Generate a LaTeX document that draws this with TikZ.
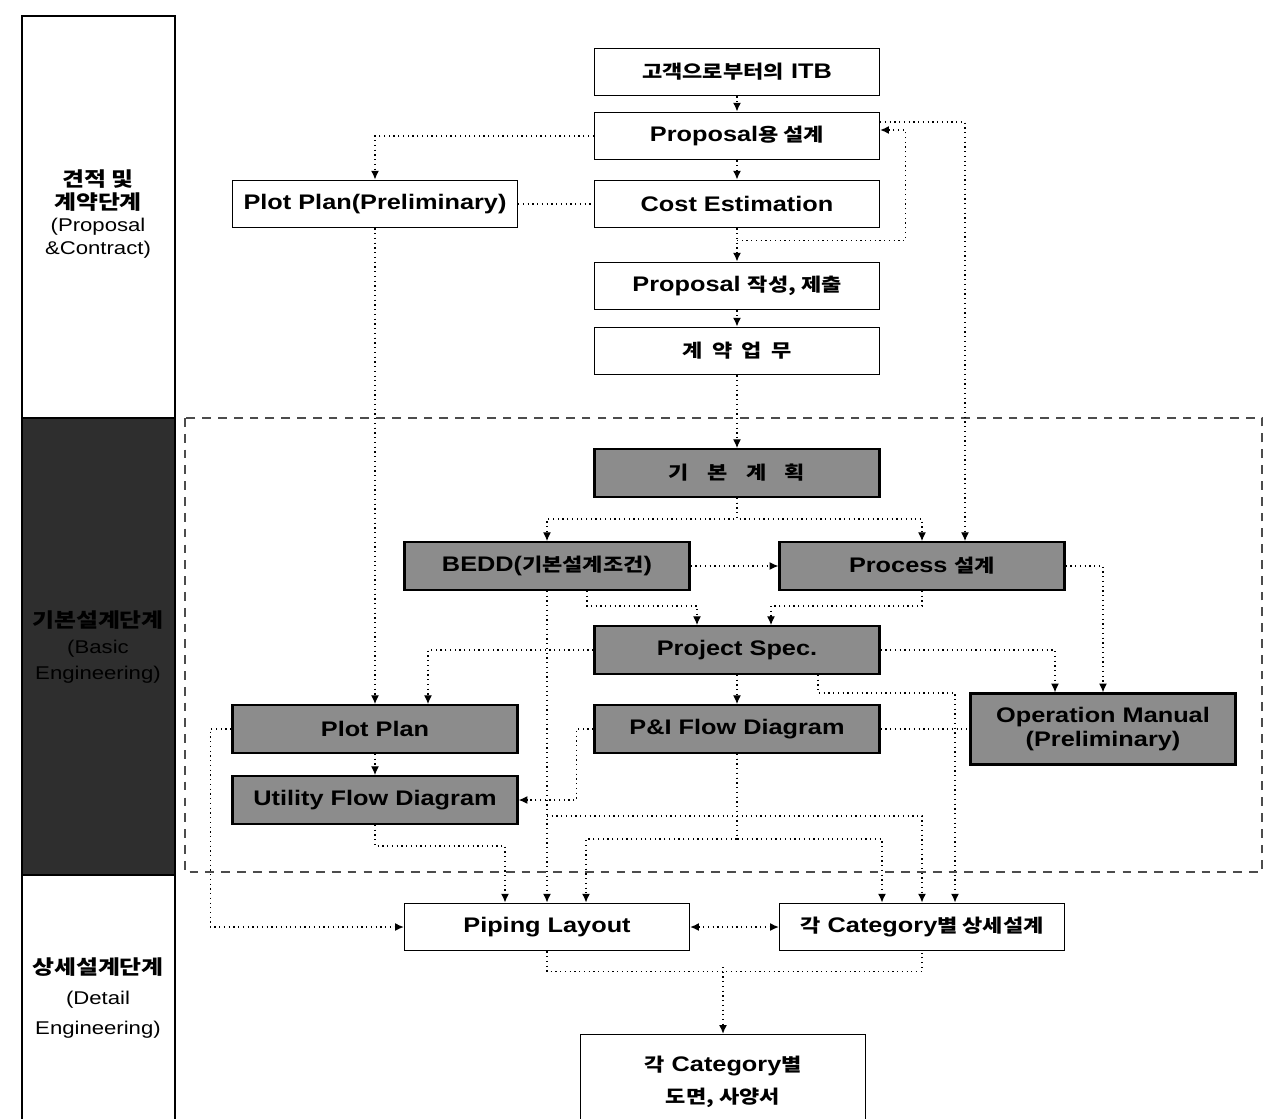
\documentclass[tikz,border=0pt]{standalone}
\usepackage{fontspec}
\setmainfont{Liberation Sans}[FakeStretch=1.2]
\newfontfamily\kr{Noto Sans CJK KR}[Scale=0.87,FakeStretch=1.2]
\usetikzlibrary{calc,arrows.meta}

\begin{document}
\begin{tikzpicture}[x=0.02cm,y=-0.02cm,font=\bfseries\fontsize{12}{14}\selectfont]
\tikzset{W/.style={draw,line width=0.8pt,fill=white,minimum width=5.7cm,minimum height=0.95cm,inner sep=0pt,align=center},
G/.style={W,fill=black!45,line width=1.3pt},
D/.style={dotted,line width=0.7pt},
L/.style={D,-{Latex[length=5pt,width=4.5pt]}}
}

\useasboundingbox (0,0) rectangle (1272,1119);

% stages on the left
\draw[line width=0.8pt] (22,16) rectangle (175,418);
\draw[line width=0.8pt,fill=black!82] (22,418) rectangle (175,875);
\draw[line width=0.8pt] (22,875) rectangle (175,1130);
\node(s1)[align=center,font=\mdseries\fontsize{10.5}{13}\selectfont] at (98,214)
{{\kr\bfseries\fontsize{13}{13}\selectfont 견적 및}\\{\kr\bfseries\fontsize{13}{13}\selectfont 계약단계}\\(Proposal\\\&Contract)};
\node(s2)[align=center,font=\mdseries\fontsize{10.5}{15}\selectfont] at (98,647)
{{\kr\bfseries\fontsize{13}{13}\selectfont 기본설계단계}\\(Basic\\Engineering)};
\node(s3)[align=center,font=\mdseries\fontsize{10.5}{17}\selectfont] at (98,998)
{{\kr\bfseries\fontsize{13}{13}\selectfont 상세설계단계}\\(Detail\\Engineering)};

% basic engineering area
\draw[dash pattern=on 5pt off 4pt,line width=0.8pt,black!70] (185,418) rectangle (1262,872);

% boxes
\node(itb)[W] at (737,72) {{\kr 고객으로부터의} ITB};
\node(prop)[W] at (737,136) {Proposal{\kr 용 설계}};
\node(cost)[W] at (737,204) {Cost Estimation};
\node(ppre)[W] at (375,204) {Plot Plan(Preliminary)};
\node(subm)[W] at (737,286) {Proposal {\kr 작성, 제출}};
\node(cont)[W] at (737,351) {{\kr 계\enspace 약\enspace 업\enspace 무}};
\node(basic)[G] at (737,473) {{\kr 기\quad 본\quad 계\quad 획}};
\node(bedd)[G] at (547,566) {BEDD({\kr 기본설계조건})};
\node(proc)[G] at (922,566) {Process {\kr 설계}};
\node(spec)[G] at (737,650) {Project Spec.};
\node(plot)[G] at (375,729) {Plot Plan};
\node(pid)[G] at (737,729) {P\&I Flow Diagram};
\node(ufd)[G] at (375,800) {Utility Flow Diagram};
\node(opm)[G,minimum width=5.3cm,minimum height=1.42cm] at (1103,729) {Operation Manual\\(Preliminary)};
\node(pipe)[W] at (547,927) {Piping Layout};
\node(cat)[W] at (922,927) {{\kr 각} Category{\kr 별 상세설계}};
\node(dwg)[W,minimum height=1.9cm,font=\bfseries\fontsize{12}{18}\selectfont] at (723,1082) {{\kr 각} Category{\kr 별}\\{\kr 도면, 사양서}};

% proposal stage
\draw[L] (itb) -- (prop);
\draw[L] (prop) -- (cost);
\draw[L] (cost) -- (subm);
\draw[L] ($(cost.south)+(0,12)$) -| ($(prop.east)+(25,-6)$) -- ($(prop.east)+(0,-6)$);
\draw[L] (prop.west) -| (ppre.north);
\draw[D] (ppre) -- (cost);
\draw[L] (subm) -- (cont);
\draw[L] (cont) -- (basic);
\draw[L] ($(prop.east)+(0,-14)$) -| ($(proc.north)+(43,0)$);
\draw[L] (ppre) -- (plot);

% basic engineering
\draw[L] (basic.south) -- ++(0,21) -| (bedd.north);
\draw[L] (basic.south) -- ++(0,21) -| (proc.north);
\draw[L] (bedd) -- (proc);
\draw[L] ($(bedd.south)+(40,0)$) -- ++(0,15) -| ($(spec.north)+(-40,0)$);
\draw[L] (proc.south) -- ++(0,15) -| ($(spec.north)+(34,0)$);
\draw[L] (spec.west) -| ($(plot.north)+(53,0)$);
\draw[L] (spec) -- (pid);
\draw[L] (spec.east) -| ($(opm.north)+(-48,0)$);
\draw[L] (proc.east) -| (opm.north);
\draw[L] ($(spec.south)+(81,0)$) -- ++(0,18) -| ($(cat.north)+(33,0)$);
\draw[D] (pid) -- (opm);
\draw[L] (pid.west) -- ++(-17,0) |- (ufd.east);
\draw[L] (plot) -- (ufd);

% to detail engineering
\draw[L] (bedd) -- (pipe);
\draw[L] ($(bedd.south)+(0,225)$) -| (cat.north);
\draw[L] (pid.south) -- ++(0,85) -| ($(pipe.north)+(39,0)$);
\draw[L] (pid.south) -- ++(0,85) -| ($(cat.north)+(-40,0)$);
\draw[L] (plot.west) -- ++(-21,0) |- (pipe.west);
\draw[L] (ufd.south) -- ++(0,21) -| ($(pipe.north)+(-42,0)$);
\draw[D,{Latex[length=5pt,width=4.5pt]}-{Latex[length=5pt,width=4.5pt]}] (pipe) -- (cat);
\draw[D] (pipe.south) -- ++(0,20) -| (cat.south);
\draw[L] ($(dwg.north)+(0,-67)$) -- (dwg.north);

\end{tikzpicture}
\end{document}
